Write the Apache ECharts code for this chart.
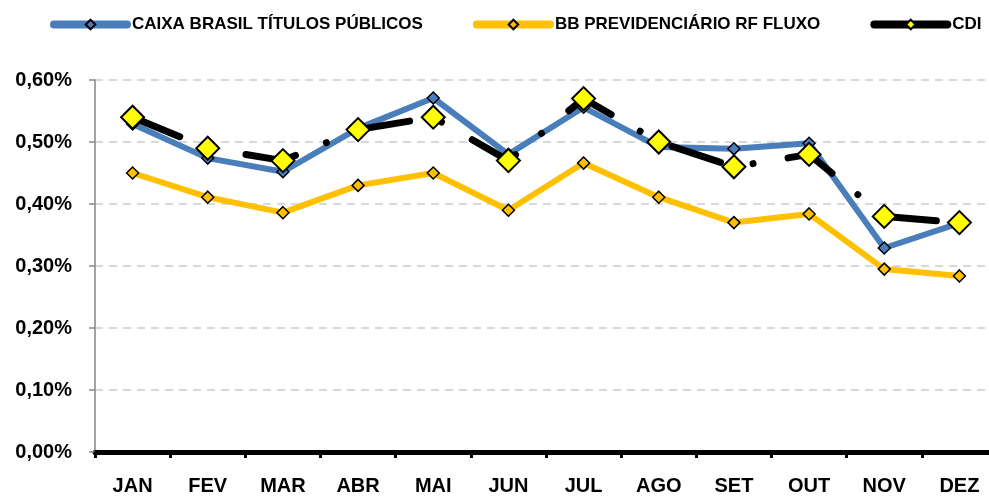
<!DOCTYPE html>
<html>
<head>
<meta charset="utf-8">
<script src="https://cdn.jsdelivr.net/npm/echarts@6/dist/echarts.min.js"></script>
<style>
    html, body {margin: 0; padding: 0; background: #fff;}
    #chart {width: 989px; height: 497px;}
</style>
</head>
<body>
<div id="chart"></div>
<script>
var meses = ['JAN', 'FEV', 'MAR', 'ABR', 'MAI', 'JUN', 'JUL', 'AGO', 'SET', 'OUT', 'NOV', 'DEZ'];
var caixa = [0.529, 0.474, 0.452, 0.522, 0.571, 0.480, 0.556, 0.492, 0.489, 0.498, 0.329, 0.369];
var bbPrev = [0.450, 0.411, 0.386, 0.430, 0.450, 0.390, 0.466, 0.411, 0.370, 0.384, 0.295, 0.284];
var cdi = [0.540, 0.490, 0.470, 0.520, 0.540, 0.470, 0.570, 0.500, 0.460, 0.480, 0.380, 0.370];
var yTicks = ['0,00%', '0,10%', '0,20%', '0,30%', '0,40%', '0,50%', '0,60%'];

var labelFont = 'Liberation Sans, Arial, sans-serif';

var myChart = echarts.init(document.getElementById('chart'));

var option = {
    animation: false,
    legend: {
        top: 16,
        left: 50,
        width: 939,
        padding: 0,
        itemGap: 50,
        itemWidth: 73,
        itemHeight: 12,
        textStyle: {
            fontFamily: labelFont,
            fontWeight: 'bold',
            fontSize: 17,
            color: '#000'
        },
        data: [
            {name: 'CAIXA BRASIL TÍTULOS PÚBLICOS', lineStyle: {width: 8, cap: 'round'}},
            {name: 'BB PREVIDENCIÁRIO RF FLUXO', lineStyle: {width: 8, cap: 'round'}},
            {name: 'CDI', lineStyle: {type: 'solid', width: 8, cap: 'round'}}
        ]
    },
    grid: {
        left: 95,
        right: -8,
        top: 80,
        bottom: 45,
        outerBoundsMode: 'none'
    },
    xAxis: {
        type: 'category',
        data: meses,
        boundaryGap: true,
        axisLine: {lineStyle: {color: '#000', width: 5}},
        axisTick: {
            show: true,
            interval: 0,
            length: 6,
            lineStyle: {color: '#000', width: 3}
        },
        axisLabel: {
            margin: 24,
            fontFamily: labelFont,
            fontWeight: 'bold',
            fontSize: 20,
            color: '#000'
        }
    },
    yAxis: {
        type: 'value',
        min: 0,
        max: 0.6,
        interval: 0.1,
        axisLine: {show: true, lineStyle: {color: '#868686', width: 1.5}},
        axisTick: {show: true, length: 6, lineStyle: {color: '#868686', width: 1.5}},
        splitLine: {
            show: true,
            lineStyle: {color: '#d9d9d9', width: 2, type: [8, 6]}
        },
        axisLabel: {
            margin: 23,
            fontFamily: labelFont,
            fontWeight: 'bold',
            fontSize: 20,
            color: '#000',
            formatter: function (v) {
                return yTicks[Math.round(v * 10)];
            }
        }
    },
    series: [
        {
            name: 'CAIXA BRASIL TÍTULOS PÚBLICOS',
            type: 'line',
            data: caixa,
            symbol: 'diamond',
            symbolSize: 12,
            lineStyle: {color: '#4a7ebb', width: 6},
            itemStyle: {color: '#4a7ebb', borderColor: '#000', borderWidth: 1.5}
        },
        {
            name: 'BB PREVIDENCIÁRIO RF FLUXO',
            type: 'line',
            data: bbPrev,
            symbol: 'diamond',
            symbolSize: 12,
            lineStyle: {color: '#ffc000', width: 6},
            itemStyle: {color: '#ffc000', borderColor: '#000', borderWidth: 1.5}
        },
        {
            name: 'CDI',
            type: 'line',
            data: cdi,
            symbol: 'diamond',
            symbolSize: 23,
            lineStyle: {color: '#000', width: 7, type: [51, 33.5, 0.01, 35.5], cap: 'round'},
            itemStyle: {color: '#ffff00', borderColor: '#000', borderWidth: 2}
        }
    ]
};

myChart.setOption(option);
</script>
</body>
</html>
